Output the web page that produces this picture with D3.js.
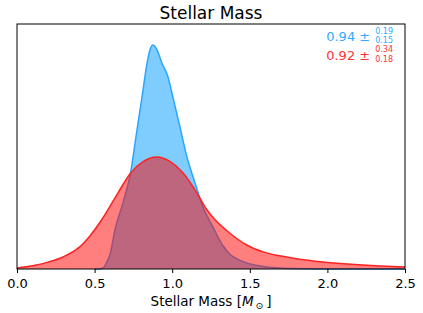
<!DOCTYPE html>
<html>
<head>
<meta charset="utf-8">
<script src="https://cdn.jsdelivr.net/npm/d3@7"></script>
<style>
  body { margin: 0; background: #fff; }
  text { font-family: "DejaVu Sans", sans-serif; }
</style>
</head>
<body>
<div class="chart"></div>
<script>
const WIDTH = 423;
const HEIGHT = 313;
const MARGIN = { TOP: 24, BOTTOM: 44, LEFT: 17, RIGHT: 18 };

const width = WIDTH - MARGIN.LEFT - MARGIN.RIGHT;
const height = HEIGHT - MARGIN.TOP - MARGIN.BOTTOM;

// datos (masa, densidad normalizada)
const blueMass = [0.50, 0.535, 0.554, 0.58, 0.60, 0.631, 0.683, 0.728, 0.773, 0.805, 0.838, 0.857, 0.876, 0.902, 0.934, 0.973, 1.005, 1.05, 1.095, 1.147, 1.198, 1.263, 1.327, 1.372, 1.43, 1.482, 1.55, 1.611, 1.759, 1.95, 2.5];
const blueDens = [0.0, 0.001, 0.004, 0.03, 0.06, 0.16, 0.27, 0.38, 0.567, 0.70, 0.84, 0.895, 0.914, 0.894, 0.84, 0.784, 0.70, 0.58, 0.457, 0.351, 0.253, 0.171, 0.095, 0.06, 0.037, 0.024, 0.014, 0.008, 0.002, 0.0, 0.0];

const redMass = [0.00, 0.10, 0.20, 0.30, 0.40, 0.47, 0.55, 0.65, 0.73, 0.81, 0.90, 0.99, 1.07, 1.16, 1.22, 1.26, 1.37, 1.48, 1.59, 1.70, 1.80, 1.91, 2.00, 2.13, 2.34, 2.50];
const redDens = [0.004, 0.013, 0.028, 0.050, 0.088, 0.135, 0.205, 0.31, 0.39, 0.437, 0.457, 0.437, 0.392, 0.31, 0.245, 0.212, 0.147, 0.098, 0.069, 0.053, 0.042, 0.033, 0.027, 0.020, 0.012, 0.008];

const xTicks = [0.0, 0.5, 1.0, 1.5, 2.0, 2.5];

const blueStats = { med: '0.94', up: '0.19', lo: '0.15' };
const redStats = { med: '0.92', up: '0.34', lo: '0.18' };

const svg = d3.select('.chart').append('svg')
  .attr('width', WIDTH)
  .attr('height', HEIGHT);

const g = svg.append('g')
  .attr('transform', `translate(${MARGIN.LEFT}, ${MARGIN.TOP})`);

const xscale = d3.scaleLinear().domain([0, 2.5]).range([0, width]);
const yscale = d3.scaleLinear().domain([0, 1]).range([height, 0]);

const toPts = (xs, ys) => xs.map((x, i) => [x, ys[i]]);

const area = d3.area()
  .x(d => xscale(d[0]))
  .y0(yscale(0))
  .y1(d => yscale(d[1]))
  .curve(d3.curveMonotoneX);

const line = d3.line()
  .x(d => xscale(d[0]))
  .y(d => yscale(d[1]))
  .curve(d3.curveMonotoneX);

const bluePts = toPts(blueMass, blueDens);
const redPts = toPts(redMass, redDens);

g.append('path').attr('d', area(bluePts))
  .attr('fill', '#0099ff').attr('fill-opacity', 0.5);
g.append('path').attr('d', line(bluePts))
  .attr('fill', 'none').attr('stroke', '#2aa6ff').attr('stroke-width', 1.5);

g.append('path').attr('d', area(redPts))
  .attr('fill', '#ff0000').attr('fill-opacity', 0.5);
g.append('path').attr('d', line(redPts))
  .attr('fill', 'none').attr('stroke', '#ff2222').attr('stroke-width', 1.5);

// marco
g.append('rect')
  .attr('width', width).attr('height', height)
  .attr('fill', 'none').attr('stroke', '#000').attr('stroke-width', 1);

const xAxis = g.append('g')
  .attr('transform', `translate(0, ${height})`)
  .call(d3.axisBottom(xscale).tickValues(xTicks).tickFormat(d3.format('.1f'))
    .tickSize(4).tickPadding(5.5));
xAxis.select('.domain').remove();
xAxis.selectAll('text').attr('font-size', 13).attr('fill', '#000')
  .attr('font-family', 'DejaVu Sans');
xAxis.selectAll('line').attr('stroke', '#000');

// titulo
svg.append('text')
  .attr('x', MARGIN.LEFT + width / 2).attr('y', 19)
  .attr('text-anchor', 'middle').attr('font-size', 17)
  .text('Stellar Mass');

// etiqueta eje x
const xl = svg.append('text')
  .attr('x', MARGIN.LEFT + width / 2).attr('y', 306)
  .attr('text-anchor', 'middle').attr('font-size', 13.5);
xl.append('tspan').text('Stellar Mass [');
xl.append('tspan').attr('font-style', 'italic').text('M');
xl.append('tspan').attr('font-size', 9.5).attr('dy', 2.5).text('\u2009\u2299');
xl.append('tspan').attr('dy', -2.5).text('\u2009]');

// anotaciones
function stat(s, color, y) {
  const t = g.append('g').attr('fill', color);
  const sup = t.append('text').attr('x', width - 12).attr('y', y - 5.5)
    .attr('font-size', 8).attr('text-anchor', 'end').text(s.up);
  t.append('text').attr('x', width - 12).attr('y', y + 4)
    .attr('font-size', 8).attr('text-anchor', 'end').text(s.lo);
  const w = sup.node().getComputedTextLength();
  t.append('text').attr('x', width - 17 - w).attr('y', y + 2)
    .attr('font-size', 13).attr('text-anchor', 'end').text(`${s.med} \u00b1`);
}
stat(blueStats, '#33aaff', 15);
stat(redStats, '#ff3333', 33.5);
</script>
</body>
</html>
